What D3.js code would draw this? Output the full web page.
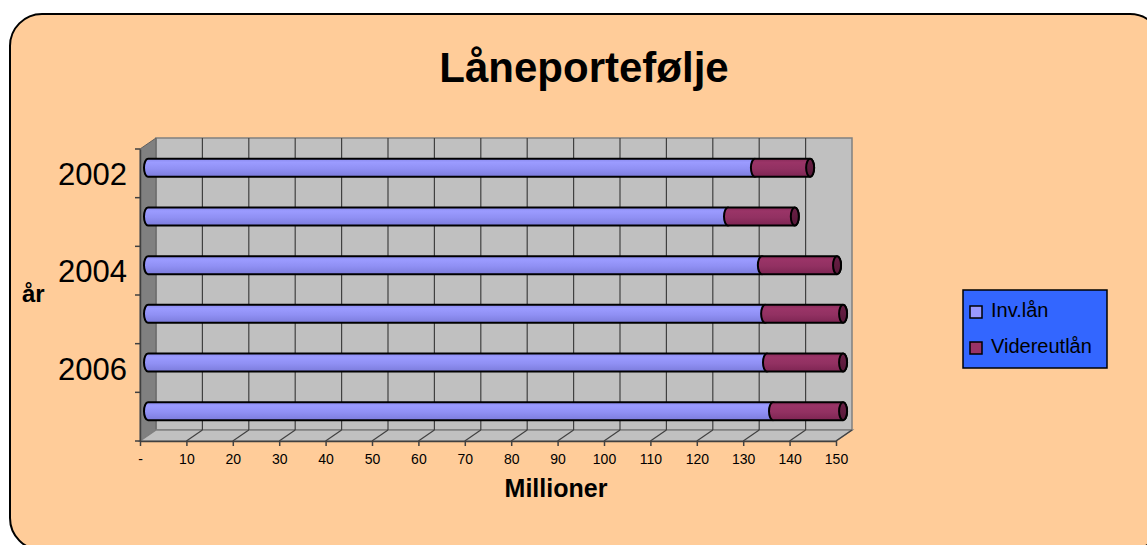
<!DOCTYPE html>
<html>
<head>
<meta charset="utf-8">
<script src="https://cdn.jsdelivr.net/npm/d3@7"></script>
<style>
  body { margin: 0; background: #fff; }
  text { font-family: "Liberation Sans", Arial, sans-serif; }
</style>
</head>
<body>
<svg id="chart" width="1147" height="545"></svg>
<script>
// chart data
const years = ["2002", "2003", "2004", "2005", "2006", "2007"];
const yearLabels = ["2002", "2004", "2006"];
const invLan = [130.8, 125.0, 132.3, 133.0, 133.4, 134.7];
const videreutlan = [11.9, 14.4, 16.2, 16.8, 16.4, 15.1];
const xTicks = [0, 10, 20, 30, 40, 50, 60, 70, 80, 90, 100, 110, 120, 130, 140, 150];
const seriesNames = ["Inv.lån", "Videreutlån"];

let svg = d3.select("#chart");
const defs = svg.append("defs");

// depth of the 3d box
const dx = 16, dy = -11;

let x = d3.scaleLinear().domain([0, 150]).range([140, 836]);
let y = d3.scaleBand().domain(years).range([149, 441]);

function grad(id, stops) {
    let g = defs.append("linearGradient").attr("id", id)
        .attr("x1", 0).attr("y1", 0).attr("x2", 0).attr("y2", 1);
    stops.forEach(function (s) {
        g.append("stop").attr("offset", s[0]).attr("stop-color", s[1]);
    });
}
grad("gBlue", [[0, "#8c8cf0"], [0.2, "#9b9bff"], [0.55, "#9090f4"], [1, "#7c7cdc"]]);
grad("gRed", [[0, "#8a2c5b"], [0.2, "#9a3467"], [0.55, "#923162"], [1, "#7e2553"]]);
grad("gCap", [[0, "#6a1f45"], [1, "#561838"]]);

// background panel
svg.append("rect")
    .attr("x", 10).attr("y", 14)
    .attr("width", 1152).attr("height", 536)
    .attr("rx", 32).attr("ry", 32)
    .attr("fill", "#ffcc99")
    .attr("stroke", "#000").attr("stroke-width", 2);

svg.append("text")
    .attr("x", 584).attr("y", 82)
    .attr("text-anchor", "middle")
    .attr("font-size", 42).attr("font-weight", "bold")
    .text("Låneportefølje");

// walls
const x0 = x(0), x1 = x(150), yTop = y.range()[0], yBot = y.range()[1];
svg.append("rect")
    .attr("x", x0 + dx).attr("y", yTop + dy)
    .attr("width", x1 - x0).attr("height", yBot - yTop)
    .attr("fill", "#c0c0c0").attr("stroke", "#808080").attr("stroke-width", 1.5);

svg.append("polygon")
    .attr("points", [[x0, yTop], [x0 + dx, yTop + dy], [x0 + dx, yBot + dy], [x0, yBot]].join(" "))
    .attr("fill", "#808080").attr("stroke", "#606060");

svg.append("polygon")
    .attr("points", [[x0, yBot], [x1, yBot], [x1 + dx, yBot + dy], [x0 + dx, yBot + dy]].join(" "))
    .attr("fill", "#c0c0c0").attr("stroke", "#808080").attr("stroke-width", 1.5);

// grid on back wall and floor
let grid = svg.append("g").attr("stroke", "#404040").attr("stroke-width", 1.2);
grid.selectAll("line.back")
    .data(xTicks.filter(function (d) { return d > 0 && d < 150; }))
    .enter().append("line")
    .attr("class", "back")
    .attr("x1", function (d) { return x(d) + dx; })
    .attr("x2", function (d) { return x(d) + dx; })
    .attr("y1", yTop + dy).attr("y2", yBot + dy);
grid.selectAll("line.floor")
    .data(xTicks.filter(function (d) { return d > 0; }))
    .enter().append("line")
    .attr("class", "floor")
    .attr("x1", function (d) { return x(d); })
    .attr("x2", function (d) { return x(d) + dx; })
    .attr("y1", yBot).attr("y2", yBot + dy);

// x axis
let xAxis = svg.append("g")
    .attr("transform", "translate(0," + yBot + ")")
    .call(d3.axisBottom(x).tickValues(xTicks).tickSize(5).tickSizeOuter(0)
        .tickFormat(function (d) { return d === 0 ? "-" : d; }));
xAxis.select(".domain").attr("stroke", "#404040").attr("stroke-width", 1.5);
xAxis.selectAll(".tick line").attr("stroke", "#404040").attr("stroke-width", 1.5);
xAxis.selectAll(".tick text")
    .attr("font-size", 14).attr("font-family", "Liberation Sans, Arial").attr("dy", "1.05em");

// y axis
let yAxis = svg.append("g")
    .attr("transform", "translate(" + x0 + ",0)")
    .call(d3.axisLeft(y).tickSize(0).tickPadding(13)
        .tickFormat(function (d) { return yearLabels.indexOf(d) >= 0 ? d : ""; }));
yAxis.select(".domain").attr("stroke", "#404040").attr("stroke-width", 1.5);
yAxis.selectAll(".tick text")
    .attr("font-size", 31).attr("font-family", "Liberation Sans, Arial").attr("dy", "0.38em");
yAxis.selectAll("line.bound")
    .data(years.concat(["end"]))
    .enter().append("line")
    .attr("class", "bound")
    .attr("x1", -5).attr("x2", 0)
    .attr("y1", function (d, i) { return yTop + i * y.bandwidth(); })
    .attr("y2", function (d, i) { return yTop + i * y.bandwidth(); })
    .attr("stroke", "#404040").attr("stroke-width", 1.5);

svg.append("text")
    .attr("x", 22).attr("y", 302)
    .attr("font-size", 24).attr("font-weight", "bold")
    .text("år");
svg.append("text")
    .attr("x", 556).attr("y", 497)
    .attr("text-anchor", "middle")
    .attr("font-size", 25).attr("font-weight", "bold")
    .text("Millioner");

// cylinders
const barH = 18, rx = 4, ry = barH / 2;
function body(xa, xb, yc) {
    let yt = yc - ry, yb = yc + ry;
    return "M" + xa + "," + yt + "L" + xb + "," + yt +
        "A" + rx + "," + ry + " 0 0 1 " + xb + "," + yb +
        "L" + xa + "," + yb +
        "A" + rx + "," + ry + " 0 0 1 " + xa + "," + yt + "Z";
}
let bars = svg.append("g").attr("stroke", "#000").attr("stroke-width", 2);
years.forEach(function (yr, i) {
    let yc = y(yr) + y.bandwidth() / 2 + dy / 2;
    let xs = x(0) + dx / 2;
    let xm = x(invLan[i]) + dx / 2;
    let xe = x(invLan[i] + videreutlan[i]) + dx / 2;
    bars.append("path").attr("d", body(xs, xm, yc)).attr("fill", "url(#gBlue)");
    bars.append("path").attr("d", body(xm, xe, yc)).attr("fill", "url(#gRed)");
    bars.append("ellipse")
        .attr("cx", xe).attr("cy", yc).attr("rx", rx).attr("ry", ry)
        .attr("fill", "url(#gCap)");
});

// legend
let legend = svg.append("g");
legend.append("rect")
    .attr("x", 963).attr("y", 290).attr("width", 144).attr("height", 78)
    .attr("fill", "#3366ff").attr("stroke", "#000").attr("stroke-width", 1.5);
const legendColors = ["#9999ff", "#993366"];
seriesNames.forEach(function (name, i) {
    legend.append("rect")
        .attr("x", 970).attr("y", 306 + i * 36).attr("width", 12).attr("height", 12)
        .attr("fill", legendColors[i]).attr("stroke", "#000").attr("stroke-width", 1.5);
    legend.append("text")
        .attr("x", 991).attr("y", 317 + i * 36)
        .attr("font-size", 20)
        .text(name);
});
</script>
</body>
</html>
